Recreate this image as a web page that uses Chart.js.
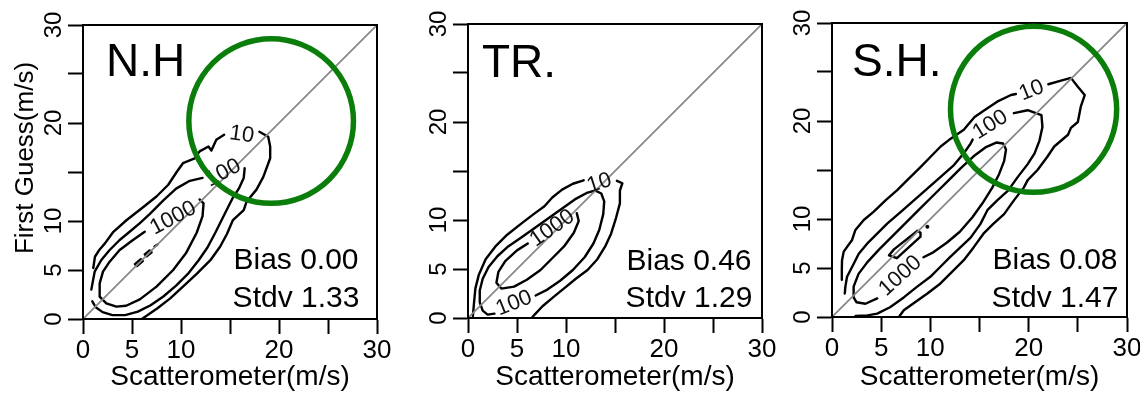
<!DOCTYPE html>
<html>
<head>
<meta charset="utf-8">
<script src="https://cdn.jsdelivr.net/npm/chart.js@4.4.1/dist/chart.umd.min.js"></script>
<style>
  html, body { margin: 0; padding: 0; background: #fff; }
  body { position: relative; width: 1140px; height: 394px; overflow: hidden; }
  canvas { position: absolute; top: 0; }
</style>
</head>
<body>
<canvas id="nh" width="395" height="394" style="left:0px"></canvas>
<canvas id="tr" width="396" height="394" style="left:384px"></canvas>
<canvas id="sh" width="391" height="394" style="left:749px"></canvas>
<script>
const FONT = '"Liberation Sans", Arial, Helvetica, sans-serif';

const X_TITLE = 'Scatterometer(m/s)';
const Y_TITLE = 'First Guess(m/s)';
const AXIS_MIN = 0;
const AXIS_MAX = 30;
const TICK_STEP = 5;
const TICK_LABELS = [0, 5, 10, 20, 30];

const REGIONS = ['N.H', 'TR.', 'S.H.'];
const BIAS = [0.00, 0.46, 0.08];
const STDV = [1.33, 1.29, 1.47];
const LEVELS = ['10', '100', '1000'];
const DIAGONAL = [0, 30];

// contour lines, [scatterometer, first guess] in m/s; breaks are where level labels sit
const NH_10_A = [[1.05,5.2],[1.22,6.35],[1.7,7.1],[2.24,7.72],[3.1,8.9],[4.46,10.1],[6.0,11.3],[7.5,12.5],[8.7,13.7],[9.56,15.0],[10.2,15.9],[11.4,16.4],[11.9,17.1],[12.8,17.6],[13.1,17.2],[13.6,18.3],[14.4,18.8]];
const NH_10_B = [[18.0,19.1],[18.9,18.6],[19.1,17.6],[19.1,16.4],[18.4,14.5],[17.7,13.2],[16.7,12.0],[16.4,11.1],[15.3,10.1],[14.7,8.7],[14.0,7.4],[13.0,6.0],[11.6,4.6],[10.2,3.3],[8.9,2.1],[7.6,1.1],[6.6,0.4],[6.0,0]];
const NH_100_A = [[0.85,3.0],[1.19,4.83],[1.87,6.02],[2.72,7.04],[3.74,8.06],[4.76,8.9],[5.78,9.76],[6.8,10.7],[8.2,12.1],[9.5,13.3],[10.9,14.1],[12.2,14.4]];
const NH_100_B = [[16.5,15.4],[16.4,14.4],[15.9,13.3],[15.3,12.4],[14.8,11.4],[14.2,10.2],[13.5,8.8],[12.7,7.3],[11.8,6.0],[10.7,4.6],[9.5,3.4],[8.2,2.3],[6.9,1.4],[5.6,0.75],[4.3,0.4],[3.0,0.4],[2.0,0.7],[1.3,1.2],[0.95,1.8]];
const NH_1000 = [[11.9,12.2],[12.3,11.8],[12.2,10.5],[11.6,8.8],[10.5,6.7],[9.2,5.0],[7.5,3.3],[5.8,2.0],[4.4,1.35],[3.4,1.26],[2.38,1.6],[1.7,2.28],[1.7,3.64],[2.04,4.83],[2.72,5.85],[3.74,7.04],[5.1,8.06],[6.3,8.9]];
const NH_PEAK_A = [[5.3,5.6],[5.9,6.1],[6.1,5.9],[5.5,5.4],[5.3,5.6]];
const NH_PEAK_B = [[6.3,6.6],[6.8,7.0],[7.0,6.8],[6.5,6.4],[6.3,6.6]];
const NH_PEAK_C = [[7.3,7.4],[7.6,7.6]];
const NH_LABEL_AT = [[16.2,18.8],[14.3,14.9],[9.2,10.3]];
const NH_CIRCLE = [19.2, 20.2, 8.4];

const TR_10_A = [[0.5,0.2],[0.6,1.4],[0.75,3.0],[1.1,4.4],[1.8,6.0],[2.8,7.3],[4.0,8.5],[5.4,9.6],[6.7,10.6],[7.8,11.4],[8.6,12.3],[9.6,13.1],[10.7,13.7],[11.8,14.05]];
const TR_10_B = [[15.2,14.0],[15.75,13.75],[15.5,13.0],[15.5,11.7],[15.1,10.2],[14.6,8.6],[14.0,7.3],[13.2,6.0],[12.2,4.9],[11.0,4.0],[9.9,3.1],[8.8,2.2],[7.6,1.2],[6.8,0.35],[6.5,0]];
const TR_100 = [[6.9,2.3],[8.1,2.9],[9.4,3.8],[10.7,4.9],[11.9,6.2],[12.8,7.6],[13.4,9.0],[13.8,10.6],[13.9,11.9],[13.6,12.7],[13.0,13.0],[12.2,12.8],[10.9,12.1],[9.5,11.1],[8.1,10.1],[6.7,9.1],[5.4,8.2],[4.1,7.3],[3.0,6.3],[2.1,5.2],[1.5,4.0],[1.2,2.8],[1.2,1.6],[1.5,0.75],[2.0,0.35],[2.7,0.45]];
const TR_1000 = [[11.1,10.7],[11.3,9.9],[10.8,8.7],[9.8,7.3],[8.8,6.3],[7.4,4.9],[6.0,3.9],[4.7,3.2],[3.4,3.0],[2.9,3.6],[3.1,4.7],[3.8,5.8],[5.0,6.9],[6.1,7.6]];
const TR_LABEL_AT = [[13.4,13.75],[4.7,1.5],[8.6,9.15]];

const SH_10_A = [[1.0,3.8],[1.0,4.9],[1.02,5.8],[1.19,6.67],[2.04,7.86],[2.38,8.88],[3.23,9.9],[4.25,10.75],[5.44,11.9],[6.63,12.95],[7.65,13.97],[9.0,15.3],[10.03,16.35],[11.05,17.4],[12.07,18.2],[13.4,19.1],[14.5,20.4],[15.5,21.1],[16.8,21.97],[18.2,22.65],[18.7,22.75]];
const SH_10_B = [[22.0,23.75],[23.2,24.1],[24.3,24.4],[25.0,23.5],[25.7,22.65],[25.3,21.46],[25.0,19.9],[24.3,19.3],[24.0,18.6],[22.6,17.4],[21.9,16.35],[20.9,15.0],[19.9,13.97],[19.5,13.2],[18.5,11.9],[17.5,10.5],[16.4,9.5],[15.4,8.5],[14.4,7.1],[13.4,5.8],[12.0,4.4],[11.0,3.4],[9.7,2.4],[8.3,1.4],[7.3,0.68],[6.8,0]];
const SH_100_A = [[14.3,18.1],[14.1,17.7],[13.4,16.7],[12.4,15.5],[11.05,14.3],[9.69,13.1],[8.33,11.9],[6.97,10.7],[5.61,9.52],[4.59,8.5],[3.57,7.48],[2.72,6.46],[2.21,5.44],[1.53,4.1],[1.36,3.1],[1.3,2.4]];
const SH_100_B = [[18.5,20.8],[19.9,21.1],[21.3,20.6],[21.4,19.4],[21.1,18.0],[20.6,16.7],[19.9,15.6],[18.9,14.3],[17.9,12.9],[16.8,11.9],[15.8,10.9],[15.1,9.5],[14.1,8.1],[13.05,7.1],[12.0,6.1],[11.0,5.1],[10.0,4.1],[8.6,3.05],[7.3,2.0],[5.9,1.0],[4.6,0.34],[3.6,0.17],[2.4,0.1]];
const SH_1000 = [[9.3,6.1],[10.3,6.6],[11.7,7.6],[13.0,8.7],[14.3,10.2],[15.3,11.6],[16.3,13.2],[17.0,14.6],[17.5,15.9],[17.7,17.1],[17.4,17.7],[16.7,17.8],[15.6,17.3],[14.4,16.4],[13.1,15.2],[11.8,13.9],[10.4,12.5],[9.0,11.1],[7.6,9.7],[6.2,8.3],[4.8,6.9],[3.6,5.6],[2.7,4.4],[2.2,3.1],[2.2,2.0],[2.5,1.5],[3.4,1.35],[4.6,1.9]];
const SH_PEAK = [[5.8,6.3],[6.3,6.9],[8.7,8.8],[9.0,8.6],[9.0,8.2],[6.6,6.0],[5.8,6.3]];
const SH_SPOT = [[9.7,9.2]];
const SH_LABEL_AT = [[20.3,23.1],[16.1,19.6],[6.95,4.2]];
const SH_CIRCLE = [20.5, 21.2, 8.45];

Chart.defaults.font.family = FONT;
Chart.defaults.color = '#000';

const toXY = pts => pts.map(([x, y]) => ({ x, y }));

function contour(pts) {
  return {
    data: toXY(pts),
    showLine: true,
    borderColor: '#000',
    borderWidth: 2.4,
    borderJoinStyle: 'round',
    borderCapStyle: 'round',
    pointRadius: 0,
    tension: 0,
    order: 1
  };
}

function diagonal() {
  return {
    data: DIAGONAL.map(v => ({ x: v, y: v })),
    showLine: true,
    borderColor: '#888',
    borderWidth: 1.8,
    pointRadius: 0,
    order: 0
  };
}

// level labels, box, region name, stats, circle and y title
const decor = {
  id: 'decor',
  afterDatasetsDraw(chart, args, o) {
    const { ctx, chartArea: a, scales: { x, y } } = chart;
    ctx.save();

    ctx.font = `22px ${FONT}`;
    ctx.fillStyle = '#111';
    ctx.textAlign = 'center';
    ctx.textBaseline = 'middle';
    o.labelAt.forEach(([vx, vy], i) => {
      ctx.save();
      ctx.translate(x.getPixelForValue(vx), y.getPixelForValue(vy));
      ctx.rotate(o.labelAngle[i] * Math.PI / 180);
      ctx.fillText(LEVELS[i], 0, 0);
      ctx.restore();
    });

    ctx.lineWidth = 2;
    ctx.strokeStyle = '#000';
    ctx.strokeRect(a.left, a.top, a.right - a.left, a.bottom - a.top);

    ctx.fillStyle = '#000';
    ctx.textBaseline = 'alphabetic';
    ctx.textAlign = 'left';
    ctx.font = `46px ${FONT}`;
    ctx.fillText(o.name, a.left + o.nameAt[0], a.top + o.nameAt[1]);

    ctx.textAlign = 'center';
    ctx.font = `30px ${FONT}`;
    ctx.fillText(`Bias ${o.bias.toFixed(2)}`, a.left + o.statsAt[0], a.bottom - o.statsAt[1]);
    ctx.fillText(`Stdv ${o.stdv.toFixed(2)}`, a.left + o.statsAt[0], a.bottom - o.statsAt[2]);

    if (o.circle) {
      const [cx, cy, r] = o.circle;
      const px = x.getPixelForValue(cx);
      ctx.beginPath();
      ctx.arc(px, y.getPixelForValue(cy), x.getPixelForValue(cx + r) - px, 0, Math.PI * 2);
      ctx.lineWidth = 5.5;
      ctx.strokeStyle = '#0b7d0b';
      ctx.stroke();
    }

    if (o.yTitle) {
      ctx.save();
      ctx.translate(a.left - o.yTitleAt[0], a.top + o.yTitleAt[1]);
      ctx.rotate(-Math.PI / 2);
      ctx.font = `26px ${FONT}`;
      ctx.fillStyle = '#000';
      ctx.textAlign = 'center';
      ctx.textBaseline = 'alphabetic';
      ctx.fillText(o.yTitle, 0, 0);
      ctx.restore();
    }
    ctx.restore();
  }
};

function tickLabel(v) {
  return TICK_LABELS.includes(v) ? String(v) : '';
}

function makePanel(id, lines, decorOpts, box) {
  const datasets = [diagonal(), ...lines.map(contour)];
  if (decorOpts.spot) {
    datasets.push({ data: toXY(decorOpts.spot), pointRadius: 2, pointBackgroundColor: '#000', pointBorderWidth: 0, showLine: false, order: 1 });
  }
  const grid = { drawOnChartArea: false, drawTicks: true, tickLength: 15, tickWidth: 2, tickColor: '#000' };
  const border = { display: true, color: '#000', width: 2 };
  return new Chart(document.getElementById(id), {
    type: 'scatter',
    data: { datasets },
    options: {
      responsive: false,
      animation: false,
      devicePixelRatio: 1,
      events: [],
      layout: { padding: { left: 0, top: box.top, right: box.right, bottom: 0 } },
      scales: {
        x: {
          type: 'linear', min: AXIS_MIN, max: AXIS_MAX,
          ticks: { stepSize: TICK_STEP, autoSkip: false, maxRotation: 0, padding: 1, color: '#000', font: { size: 26 }, callback: tickLabel },
          grid, border,
          title: { display: true, text: X_TITLE, color: '#000', font: { size: 28 }, padding: 0 },
          afterFit(s) { s.height = box.xAxis; s.paddingLeft = 0; s.paddingRight = 0; }
        },
        y: {
          type: 'linear', min: AXIS_MIN, max: AXIS_MAX,
          ticks: { stepSize: TICK_STEP, autoSkip: false, minRotation: 90, maxRotation: 90, crossAlign: 'center', padding: 0, color: '#000', font: { size: 24 }, callback: tickLabel },
          grid, border,
          afterFit(s) { s.width = box.yAxis; s.paddingTop = 0; s.paddingBottom = 0; }
        }
      },
      plugins: {
        legend: { display: false },
        tooltip: { enabled: false },
        decor: decorOpts
      }
    },
    plugins: [decor]
  });
}

makePanel('nh',
  [NH_10_A, NH_10_B, NH_100_A, NH_100_B, NH_1000, NH_PEAK_A, NH_PEAK_B, NH_PEAK_C],
  { name: REGIONS[0], bias: BIAS[0], stdv: STDV[0], labelAt: NH_LABEL_AT, labelAngle: [8, -28, -28],
    nameAt: [23, 51], statsAt: [213, 50, 12], circle: NH_CIRCLE, yTitle: Y_TITLE, yTitleAt: [50, 133] },
  { top: 25, right: 18, xAxis: 75, yAxis: 83 });

makePanel('tr',
  [TR_10_A, TR_10_B, TR_100, TR_1000],
  { name: REGIONS[1], bias: BIAS[1], stdv: STDV[1], labelAt: TR_LABEL_AT, labelAngle: [-18, -22, -35],
    nameAt: [14, 53], statsAt: [221, 48, 11] },
  { top: 24, right: 18, xAxis: 76, yAxis: 84 });

makePanel('sh',
  [SH_10_A, SH_10_B, SH_100_A, SH_100_B, SH_1000, SH_PEAK],
  { name: REGIONS[2], bias: BIAS[2], stdv: STDV[2], labelAt: SH_LABEL_AT, labelAngle: [-22, -32, -42],
    nameAt: [20, 53], statsAt: [223, 48, 10], circle: SH_CIRCLE, spot: SH_SPOT },
  { top: 23, right: 13, xAxis: 77, yAxis: 83 });
</script>
</body>
</html>
